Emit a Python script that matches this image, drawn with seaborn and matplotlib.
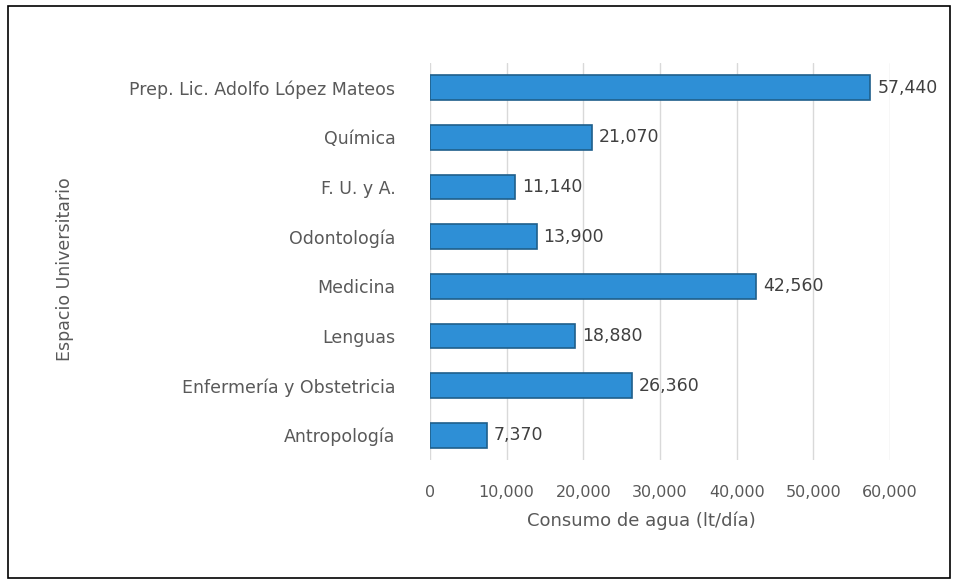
import matplotlib
matplotlib.use("Agg")
import matplotlib.pyplot as plt
from matplotlib.patches import Rectangle
import seaborn as sns
import pandas as pd

# Water consumption per university space (litres per day)
espacios = [
    "Prep. Lic. Adolfo López Mateos",
    "Química",
    "F. U. y A.",
    "Odontología",
    "Medicina",
    "Lenguas",
    "Enfermería y Obstetricia",
    "Antropología",
]
consumo = [57440, 21070, 11140, 13900, 42560, 18880, 26360, 7370]
x_ticks = [0, 10000, 20000, 30000, 40000, 50000, 60000]

df = pd.DataFrame({"Espacio": espacios, "Consumo": consumo})

sns.set_theme(style="white")
plt.rcParams["font.family"] = ["DejaVu Sans"]

W, H = 959, 584
fig = plt.figure(figsize=(W / 100, H / 100), dpi=100)
fig.patch.set_facecolor("white")

# plot area in pixel terms
left, right, top, bottom = 430, 890, 63, 460
ax = fig.add_axes([left / W, (H - bottom) / H, (right - left) / W, (bottom - top) / H])

sns.barplot(
    data=df, y="Espacio", x="Consumo", orient="h", ax=ax,
    color="#2E8FD6", width=0.5, edgecolor="#1F5F8B", linewidth=1.2,
    saturation=1,
)

ax.set_xlim(0, 60000)
ax.set_xticks(x_ticks)
ax.set_xticklabels([f"{v:,}" for v in x_ticks])
ax.xaxis.grid(True, color="#D9D9D9", linewidth=1)
ax.set_axisbelow(True)
for s in ax.spines.values():
    s.set_visible(False)

ax.tick_params(axis="y", length=0, pad=25, labelsize=12.5, labelcolor="#595959")
ax.tick_params(axis="x", length=0, pad=18, labelsize=11.5, labelcolor="#595959")

ax.set_ylabel("Espacio Universitario", fontsize=12.5, color="#595959")
ax.set_xlabel("Consumo de agua (lt/día)", fontsize=13, color="#595959")
ax.yaxis.set_label_coords(-0.775, 0.48)
ax.xaxis.set_label_coords(0.46, -0.13)

for cont in ax.containers:
    ax.bar_label(cont, labels=[f"{v:,}" for v in consumo], padding=5,
                 fontsize=12.5, color="#404040")

# outer frame around the chart
fig.patches.append(Rectangle((8 / W, 6 / H), (950 - 8) / W, (578 - 6) / H,
                             transform=fig.transFigure, fill=False,
                             edgecolor="black", linewidth=1.2))

fig.savefig("out.png", dpi=100, facecolor="white")
